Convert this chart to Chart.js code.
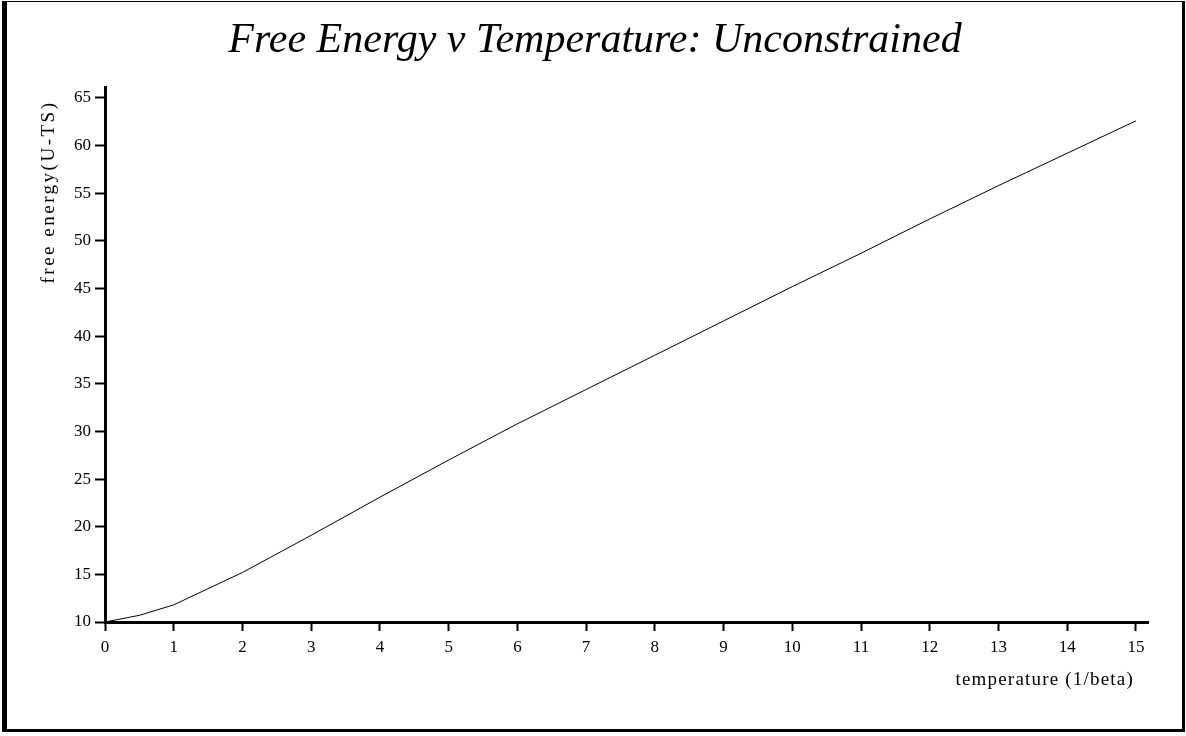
<!DOCTYPE html>
<html>
<head>
<meta charset="utf-8">
<script src="https://cdn.jsdelivr.net/npm/chart.js@4/dist/chart.umd.min.js"></script>
<style>
  html, body { margin: 0; padding: 0; background: #fff; }
  #wrap { position: relative; width: 1186px; height: 736px; }
  #frame {
    position: absolute; left: 2px; top: 1px; width: 1183px; height: 731px;
    box-sizing: border-box; pointer-events: none;
    border-left: 5px solid #000; border-top: 1px solid #000;
    border-right: 3px solid #000; border-bottom: 3px solid #000;
  }
</style>
</head>
<body>
<div id="wrap">
  <canvas id="chart" width="1186" height="736"></canvas>
  <div id="frame"></div>
</div>
<script>
'use strict';

// --- data ---
const temperature = [0, 0.5, 1, 2, 3, 4, 5, 6, 7, 8, 9, 10, 11, 12, 13, 14, 15];
const freeEnergy  = [10.0, 10.7, 11.8, 15.2, 19.1, 23.1, 27.0, 30.8, 34.4, 38.0, 41.6, 45.2, 48.7, 52.3, 55.8, 59.2, 62.6];
const xTicks = [0, 1, 2, 3, 4, 5, 6, 7, 8, 9, 10, 11, 12, 13, 14, 15];
const yTicks = [10, 15, 20, 25, 30, 35, 40, 45, 50, 55, 60, 65];

const chartTitle = 'Free Energy v Temperature: Unconstrained';
const xTitle = 'temperature (1/beta)';
const yTitle = 'free energy(U-TS)';

const SERIF = '"Liberation Serif", "Times New Roman", serif';

// titles drawn by hand so they sit where the original puts them
const textPlugin = {
    id: 'texts',
    afterDraw(chart) {
        const ctx = chart.ctx;
        ctx.save();
        ctx.fillStyle = '#000';

        ctx.font = 'italic 42px ' + SERIF;
        ctx.textAlign = 'center';
        ctx.textBaseline = 'alphabetic';
        ctx.fillText(chartTitle, 595, 52);

        ctx.font = '19px ' + SERIF;
        ctx.textAlign = 'right';
        ctx.letterSpacing = '1.2px';
        ctx.fillText(xTitle, 1134, 685);

        ctx.translate(54, 192);
        ctx.rotate(-Math.PI / 2);
        ctx.textAlign = 'center';
        ctx.letterSpacing = '2.5px';
        ctx.fillText(yTitle, 0, 0);
        ctx.restore();
    }
};

new Chart(document.getElementById('chart').getContext('2d'), {
    type: 'line',
    data: {
        datasets: [{
            data: temperature.map((t, i) => ({ x: t, y: freeEnergy[i] })),
            borderColor: '#000',
            borderWidth: 1,
            pointRadius: 0,
            tension: 0,
            fill: false
        }]
    },
    options: {
        responsive: false,
        animation: false,
        devicePixelRatio: 1,
        layout: { padding: { left: 45, right: 38, top: 87, bottom: 54 } },
        scales: {
            x: {
                type: 'linear',
                min: 0,
                max: 15.175,
                afterFit: s => { s.height = 60; },
                afterBuildTicks: s => { s.ticks = xTicks.map(v => ({ value: v })); },
                border: { display: true, color: '#000', width: 3 },
                grid: { drawOnChartArea: false, drawTicks: true, tickLength: 9, tickWidth: 2, tickColor: '#000' },
                ticks: { color: '#000', padding: 6, maxRotation: 0, font: { family: SERIF, size: 17 } }
            },
            y: {
                type: 'linear',
                min: 10,
                max: 66.15,
                afterFit: s => { s.width = 60; },
                afterBuildTicks: s => { s.ticks = yTicks.map(v => ({ value: v })); },
                border: { display: true, color: '#000', width: 3 },
                grid: { drawOnChartArea: false, drawTicks: true, tickLength: 10, tickWidth: 2, tickColor: '#000' },
                ticks: { color: '#000', padding: 4, font: { family: SERIF, size: 17 } }
            }
        },
        plugins: {
            legend: { display: false },
            tooltip: { enabled: false }
        }
    },
    plugins: [textPlugin]
});
</script>
</body>
</html>
